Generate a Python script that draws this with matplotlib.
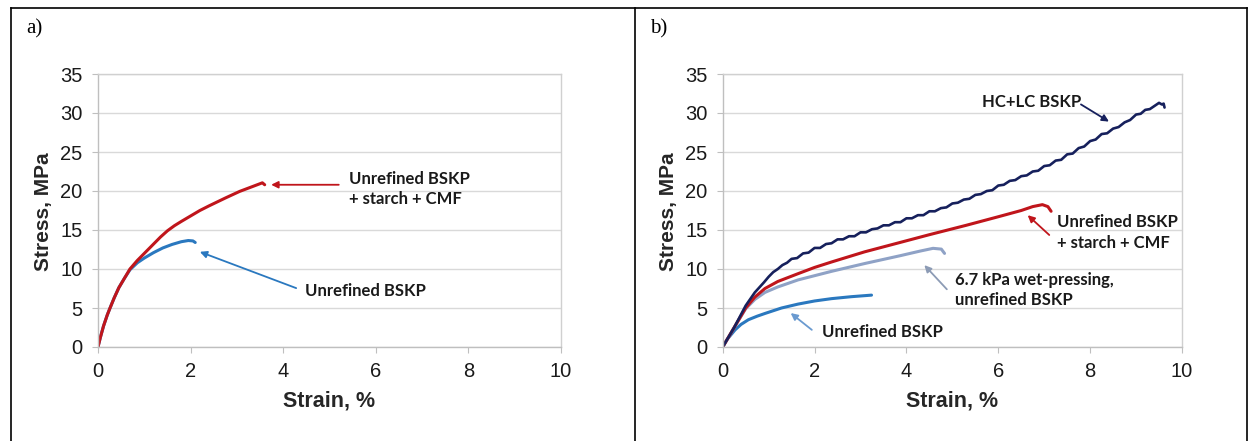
import matplotlib
matplotlib.use('Agg')
import matplotlib.pyplot as plt
from matplotlib.lines import Line2D

# Panel a) curves (strain %, stress MPa)
red_a_x = [0, 0.05, 0.12, 0.2, 0.26, 0.35, 0.45, 0.57, 0.69, 0.85, 1.0, 1.2, 1.35, 1.5, 1.65, 1.8, 2.0,
           2.2, 2.4, 2.75, 3.06, 3.35, 3.55, 3.6]
red_a_y = [0, 1.2, 2.7, 4.1, 5.0, 6.3, 7.6, 8.8, 10.0, 11.1, 12.0, 13.2, 14.1, 14.9, 15.55, 16.1, 16.8,
           17.5, 18.1, 19.1, 19.95, 20.6, 21.05, 20.8]
blue_a_x = [0, 0.05, 0.12, 0.2, 0.26, 0.35, 0.45, 0.57, 0.69, 0.85, 1.0, 1.2, 1.4, 1.6, 1.8, 1.95, 2.05, 2.1]
blue_a_y = [0, 1.2, 2.7, 4.1, 5.0, 6.3, 7.6, 8.8, 9.9, 10.8, 11.4, 12.1, 12.7, 13.15, 13.5, 13.65, 13.6, 13.4]

# Panel b) curves
navy_b_x = [0, 0.25, 0.5, 0.7, 0.9, 1.0, 1.1, 1.2, 1.3, 1.4, 1.5, 1.62, 1.75, 1.87, 2.0, 2.12, 2.25,
            2.37, 2.5, 2.62, 2.75, 2.87, 3.0, 3.12, 3.25, 3.37, 3.5, 3.62, 3.75, 3.87, 4.0, 4.12, 4.25,
            4.37, 4.5, 4.62, 4.75, 4.87, 5.0, 5.12, 5.25, 5.37, 5.5, 5.62, 5.75, 5.87, 6.0, 6.12, 6.25,
            6.37, 6.5, 6.62, 6.75, 6.87, 7.0, 7.12, 7.25, 7.37, 7.5, 7.62, 7.75, 7.87, 8.0, 8.12, 8.25,
            8.37, 8.5, 8.62, 8.75, 8.87, 9.0, 9.1, 9.2, 9.3, 9.4, 9.5, 9.56, 9.6, 9.62]
navy_b_y = [0, 2.5, 5.3, 7.0, 8.3, 9.0, 9.6, 10.0, 10.5, 10.8, 11.3, 11.4, 12.0, 12.1, 12.7, 12.7, 13.2,
            13.3, 13.8, 13.8, 14.2, 14.2, 14.7, 14.7, 15.1, 15.2, 15.6, 15.6, 16.0, 16.0, 16.5, 16.5, 16.9,
            16.9, 17.4, 17.4, 17.8, 17.9, 18.4, 18.5, 18.9, 19.0, 19.5, 19.6, 20.0, 20.1, 20.7, 20.8, 21.3,
            21.4, 21.9, 22.0, 22.5, 22.6, 23.2, 23.3, 23.9, 24.0, 24.7, 24.8, 25.5, 25.7, 26.4, 26.6, 27.3,
            27.4, 28.0, 28.2, 28.8, 29.1, 29.8, 29.9, 30.4, 30.5, 30.9, 31.3, 31.1, 31.2, 30.7]
red_b_x = [0, 0.25, 0.5, 0.7, 0.92, 1.2, 1.64, 2.0, 2.37, 3.09, 3.86, 4.5, 5.3, 6.0, 6.5, 6.75, 6.96, 7.08, 7.15]
red_b_y = [0, 2.5, 5.0, 6.4, 7.5, 8.4, 9.4, 10.2, 10.9, 12.2, 13.4, 14.4, 15.6, 16.7, 17.5, 18.0, 18.25, 18.0, 17.4]
gray_b_x = [0, 0.25, 0.5, 0.7, 0.92, 1.2, 1.64, 2.37, 3.09, 3.86, 4.3, 4.58, 4.76, 4.83]
gray_b_y = [0, 2.5, 4.9, 6.1, 7.0, 7.7, 8.6, 9.7, 10.7, 11.7, 12.3, 12.65, 12.55, 12.0]
blue_b_x = [0, 0.1, 0.27, 0.4, 0.56, 0.75, 0.92, 1.28, 1.64, 2.0, 2.37, 2.8, 3.24]
blue_b_y = [0, 1.0, 2.2, 2.9, 3.5, 3.95, 4.3, 5.0, 5.5, 5.9, 6.2, 6.45, 6.65]

x_ticks = [0, 2, 4, 6, 8, 10]
y_ticks = [0, 5, 10, 15, 20, 25, 30, 35]

RED = '#C0151B'
BLUE = '#2A78BF'
GRAY = '#8FA2C6'
NAVY = '#16205C'

fig = plt.figure(figsize=(12.54, 4.41), dpi=100)

def setup(ax):
    ax.set_xlim(0, 10)
    ax.set_ylim(0, 35)
    ax.set_xticks(x_ticks)
    ax.set_yticks(y_ticks)
    ax.grid(axis='y', color='#D9D9D9', lw=1.0)
    ax.set_axisbelow(True)
    for s in ax.spines.values():
        s.set_color('#D0D0D0')
        s.set_linewidth(1.0)
    ax.spines['left'].set_color('#BFBFBF')
    ax.spines['bottom'].set_color('#BFBFBF')
    ax.tick_params(direction='out', length=4, color='#BFBFBF', labelsize=14.5,
                   labelcolor='#1A1A1A', pad=7)
    for lab in ax.get_xticklabels() + ax.get_yticklabels():
        lab.set_fontfamily('Liberation Sans')
    ax.set_xlabel('Strain, %', fontsize=15.5, fontweight='bold', family='Liberation Sans', color='#262626')
    ax.set_ylabel('Stress, MPa', fontsize=15, fontweight='bold', family='Liberation Sans', color='#262626')
    ax.xaxis.set_label_coords(0.499, -0.161)
    ax.yaxis.set_label_coords(-0.097, 0.494)

def note(ax, text, x, y):
    ax.text(x, y, text, ha='left', va='center', fontsize=12, fontweight='bold',
            family='Lato', color='#1A1A1A', linespacing=1.35)

def arrow(ax, head, tail, color):
    ax.annotate('', xy=head, xytext=tail,
                arrowprops=dict(arrowstyle='-|>', color=color, lw=1.3, mutation_scale=10,
                                shrinkA=0, shrinkB=0))

# panel a
ax1 = fig.add_axes([98 / 1254, 1 - 347 / 441, 463 / 1254, 273 / 441])
setup(ax1)
ax1.plot(blue_a_x, blue_a_y, color=BLUE, lw=2.2, solid_capstyle='round')
ax1.plot(red_a_x, red_a_y, color=RED, lw=2.2, solid_capstyle='round')
note(ax1, 'Unrefined BSKP\n+ starch + CMF', 5.42, 20.25)
arrow(ax1, (3.74, 20.8), (5.2, 20.8), RED)
note(ax1, 'Unrefined BSKP', 4.47, 7.2)
arrow(ax1, (2.2, 12.2), (4.28, 7.55), BLUE)

# panel b
ax2 = fig.add_axes([722.7 / 1254, 1 - 347 / 441, 459.3 / 1254, 273 / 441])
setup(ax2)
ax2.plot(blue_b_x, blue_b_y, color=BLUE, lw=2.2, solid_capstyle='round')
ax2.plot(gray_b_x, gray_b_y, color=GRAY, lw=2.2, solid_capstyle='round')
ax2.plot(red_b_x, red_b_y, color=RED, lw=2.2, solid_capstyle='round')
ax2.plot(navy_b_x, navy_b_y, color=NAVY, lw=1.9, solid_capstyle='round')
note(ax2, 'HC+LC BSKP', 5.64, 31.4)
arrow(ax2, (8.41, 28.9), (7.8, 31.1), NAVY)
note(ax2, 'Unrefined BSKP\n+ starch + CMF', 7.28, 14.7)
arrow(ax2, (6.64, 16.9), (7.11, 14.36), RED)
note(ax2, '6.7 kPa wet-pressing,\nunrefined BSKP', 5.06, 7.3)
arrow(ax2, (4.39, 10.5), (4.88, 7.4), '#8C9BB5')
note(ax2, 'Unrefined BSKP', 2.16, 1.96)
arrow(ax2, (1.48, 4.35), (1.94, 2.2), '#6A9AD0')

# table borders
def fline(x0, y0, x1, y1):
    fig.add_artist(Line2D([x0, x1], [y0, y1], transform=fig.transFigure, color='black', lw=1.2))

top = 1 - 8 / 441
fline(11 / 1254, top, 1247 / 1254, top)
fline(11 / 1254, 0, 11 / 1254, top)
fline(635 / 1254, 0, 635 / 1254, top)
fline(1247 / 1254, 0, 1247 / 1254, top)

fig.text(26 / 1254, 1 - 29 / 441, 'a)', family='Liberation Serif', fontsize=15, va='center')
fig.text(650 / 1254, 1 - 29 / 441, 'b)', family='Liberation Serif', fontsize=15, va='center')

fig.savefig('out.png', dpi=100)
